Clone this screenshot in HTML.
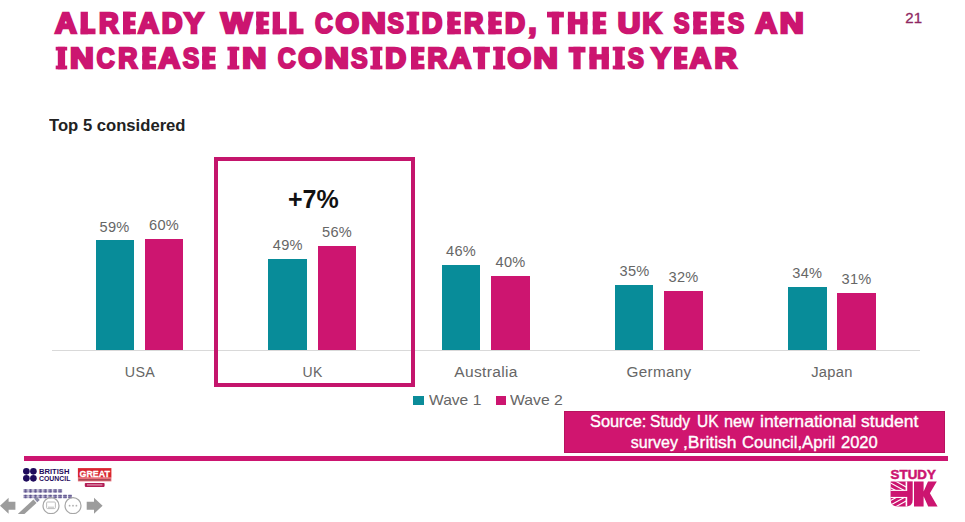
<!DOCTYPE html>
<html>
<head>
<meta charset="utf-8">
<title>Slide 21</title>
<style>
html,body{margin:0;padding:0;}
body{width:965px;height:522px;overflow:hidden;background:#fff;position:relative;font-family:"Liberation Sans",sans-serif;}
.abs{position:absolute;white-space:nowrap;}
.tw{color:#cc1570;font-weight:bold;font-size:29.2px;line-height:30px;transform-origin:0 0;-webkit-text-stroke:2.6px #cc1570;}
.tw2{font-size:28.6px;-webkit-text-stroke:3.0px #cc1570;}
.g{height:22.3px;--c:linear-gradient(#cc1570,#cc1570);}
.gE{background:var(--c) left/7.2px 100% no-repeat,var(--c) top/100% 5.3px no-repeat,var(--c) left 50%/94% 5px no-repeat,var(--c) bottom/100% 5.3px no-repeat;}
.gL{background:var(--c) left/7.2px 100% no-repeat,var(--c) bottom/100% 5.6px no-repeat;}
.gT{background:var(--c) center/7.2px 100% no-repeat,var(--c) top/100% 5.6px no-repeat;}
.gH{background:var(--c) left/7.2px 100% no-repeat,var(--c) right/7.2px 100% no-repeat,var(--c) left 45%/100% 5.4px no-repeat;}
.gI{background:var(--c) center/7.2px 100% no-repeat,var(--c) top/100% 3.6px no-repeat,var(--c) bottom/100% 3.6px no-repeat;}
.sw{color:#fff;font-size:16px;line-height:18px;transform-origin:0 0;-webkit-text-stroke:0.35px #fff;}
.bar{position:absolute;}
.teal{background:#088c99;}
.pink{background:#cd1570;}
.val{position:absolute;width:60px;text-align:center;font-size:14.6px;line-height:14px;color:#666;letter-spacing:0.25px;}
.cat{position:absolute;width:120px;text-align:center;font-size:14px;line-height:14px;color:#666;letter-spacing:0.3px;}
</style>
</head>
<body>
<!-- title -->
<svg class="abs" id="titlesvg" style="left:0;top:0;" width="965" height="84" viewBox="0 0 965 84" font-family="Liberation Sans, sans-serif" font-weight="bold" font-size="29.2" fill="#cc1570" stroke="#cc1570" stroke-width="2.6" stroke-linejoin="miter" stroke-miterlimit="3">
<text transform="translate(55.03,33.00) scale(1.026,1)">A</text>
<text transform="translate(98.90,33.00) scale(0.932,1)">R</text>
<text transform="translate(137.90,33.00) scale(0.996,1)">A</text>
<text transform="translate(161.66,33.00) scale(0.985,1)">D</text>
<text transform="translate(184.34,33.00) scale(0.996,1)">Y</text>
<text transform="translate(221.09,33.00) scale(1.125,1)">W</text>
<text transform="translate(315.00,33.00) scale(0.836,1)" font-size="29.6" stroke-width="2.2">C</text>
<text transform="translate(335.40,33.00) scale(1.037,1)">O</text>
<text transform="translate(361.53,33.00) scale(1.154,1)">N</text>
<text transform="translate(387.61,33.00) scale(0.830,1)" font-size="29.6" stroke-width="2.2">S</text>
<text transform="translate(421.67,33.00) scale(0.976,1)">D</text>
<text transform="translate(463.91,33.00) scale(0.918,1)">R</text>
<text transform="translate(504.89,33.00) scale(0.951,1)">D</text>
<text transform="translate(528.54,33.00) scale(0.982,1)">,</text>
<text transform="translate(617.66,33.00) scale(1.075,1)">U</text>
<text transform="translate(642.43,33.00) scale(0.898,1)">K</text>
<text transform="translate(673.80,33.00) scale(0.800,1)" font-size="29.6" stroke-width="2.2">S</text>
<text transform="translate(727.72,33.00) scale(0.835,1)" font-size="29.6" stroke-width="2.2">S</text>
<text transform="translate(755.62,33.00) scale(1.022,1)">A</text>
<text transform="translate(779.75,33.00) scale(1.139,1)">N</text>
<text transform="translate(70.06,68.05) scale(1.124,1)">N</text>
<text transform="translate(96.50,68.05) scale(0.855,1)" font-size="29.6" stroke-width="2.2">C</text>
<text transform="translate(118.32,68.05) scale(0.905,1)">R</text>
<text transform="translate(158.52,68.05) scale(1.022,1)">A</text>
<text transform="translate(182.72,68.05) scale(0.835,1)" font-size="29.6" stroke-width="2.2">S</text>
<text transform="translate(242.14,68.05) scale(1.144,1)">N</text>
<text transform="translate(277.80,68.05) scale(0.841,1)" font-size="29.6" stroke-width="2.2">C</text>
<text transform="translate(298.30,68.05) scale(1.037,1)">O</text>
<text transform="translate(324.64,68.05) scale(1.144,1)">N</text>
<text transform="translate(351.02,68.05) scale(0.844,1)" font-size="29.6" stroke-width="2.2">S</text>
<text transform="translate(385.26,68.05) scale(0.990,1)">D</text>
<text transform="translate(427.50,68.05) scale(0.936,1)">R</text>
<text transform="translate(449.81,68.05) scale(1.009,1)">A</text>
<text transform="translate(507.60,68.05) scale(1.037,1)">O</text>
<text transform="translate(533.43,68.05) scale(1.154,1)">N</text>
<text transform="translate(627.71,68.05) scale(0.820,1)" font-size="29.6" stroke-width="2.2">S</text>
<text transform="translate(651.13,68.05) scale(0.987,1)">Y</text>
<text transform="translate(689.71,68.05) scale(1.009,1)">A</text>
<text transform="translate(714.41,68.05) scale(1.055,1)">R</text>
<g stroke="none"><rect x="80.60" y="11.75" width="7.30" height="22.50"/><rect x="80.60" y="28.55" width="14.90" height="5.70"/><rect x="123.00" y="11.75" width="7.30" height="22.50"/><rect x="123.00" y="11.75" width="12.90" height="5.40"/><rect x="123.00" y="20.50" width="12.25" height="5.00"/><rect x="123.00" y="28.85" width="12.90" height="5.40"/><rect x="256.30" y="11.75" width="7.30" height="22.50"/><rect x="256.30" y="11.75" width="12.90" height="5.40"/><rect x="256.30" y="20.50" width="12.25" height="5.00"/><rect x="256.30" y="28.85" width="12.90" height="5.40"/><rect x="272.70" y="11.75" width="7.30" height="22.50"/><rect x="272.70" y="28.55" width="13.90" height="5.70"/><rect x="289.30" y="11.75" width="7.30" height="22.50"/><rect x="289.30" y="28.55" width="14.20" height="5.70"/><rect x="409.25" y="11.75" width="7.30" height="22.50"/><rect x="406.60" y="11.75" width="12.60" height="3.70"/><rect x="406.60" y="30.55" width="12.60" height="3.70"/><rect x="447.40" y="11.75" width="7.30" height="22.50"/><rect x="447.40" y="11.75" width="13.50" height="5.40"/><rect x="447.40" y="20.50" width="12.82" height="5.00"/><rect x="447.40" y="28.85" width="13.50" height="5.40"/><rect x="488.40" y="11.75" width="7.30" height="22.50"/><rect x="488.40" y="11.75" width="13.50" height="5.40"/><rect x="488.40" y="20.50" width="12.82" height="5.00"/><rect x="488.40" y="28.85" width="13.50" height="5.40"/><rect x="551.80" y="11.75" width="7.30" height="22.50"/><rect x="547.00" y="11.75" width="16.90" height="5.70"/><rect x="567.90" y="11.75" width="7.30" height="22.50"/><rect x="580.20" y="11.75" width="7.30" height="22.50"/><rect x="567.90" y="19.18" width="19.60" height="5.40"/><rect x="592.80" y="11.75" width="7.30" height="22.50"/><rect x="592.80" y="11.75" width="13.50" height="5.40"/><rect x="592.80" y="20.50" width="12.83" height="5.00"/><rect x="592.80" y="28.85" width="13.50" height="5.40"/><rect x="693.30" y="11.75" width="7.30" height="22.50"/><rect x="693.30" y="11.75" width="13.60" height="5.40"/><rect x="693.30" y="20.50" width="12.92" height="5.00"/><rect x="693.30" y="28.85" width="13.60" height="5.40"/><rect x="710.80" y="11.75" width="7.30" height="22.50"/><rect x="710.80" y="11.75" width="13.60" height="5.40"/><rect x="710.80" y="20.50" width="12.92" height="5.00"/><rect x="710.80" y="28.85" width="13.60" height="5.40"/><rect x="57.80" y="46.80" width="7.30" height="22.50"/><rect x="55.70" y="46.80" width="11.50" height="3.70"/><rect x="55.70" y="65.60" width="11.50" height="3.70"/><rect x="142.30" y="46.80" width="7.30" height="22.50"/><rect x="142.30" y="46.80" width="13.80" height="5.40"/><rect x="142.30" y="55.55" width="13.11" height="5.00"/><rect x="142.30" y="63.90" width="13.80" height="5.40"/><rect x="202.20" y="46.80" width="7.30" height="22.50"/><rect x="202.20" y="46.80" width="13.50" height="5.40"/><rect x="202.20" y="55.55" width="12.82" height="5.00"/><rect x="202.20" y="63.90" width="13.50" height="5.40"/><rect x="229.70" y="46.80" width="7.30" height="22.50"/><rect x="227.40" y="46.80" width="11.90" height="3.70"/><rect x="227.40" y="65.60" width="11.90" height="3.70"/><rect x="372.70" y="46.80" width="7.30" height="22.50"/><rect x="370.30" y="46.80" width="12.10" height="3.70"/><rect x="370.30" y="65.60" width="12.10" height="3.70"/><rect x="411.00" y="46.80" width="7.30" height="22.50"/><rect x="411.00" y="46.80" width="13.50" height="5.40"/><rect x="411.00" y="55.55" width="12.82" height="5.00"/><rect x="411.00" y="63.90" width="13.50" height="5.40"/><rect x="477.80" y="46.80" width="7.30" height="22.50"/><rect x="473.00" y="46.80" width="16.90" height="5.70"/><rect x="495.55" y="46.80" width="7.30" height="22.50"/><rect x="493.10" y="46.80" width="12.20" height="3.70"/><rect x="493.10" y="65.60" width="12.20" height="3.70"/><rect x="573.35" y="46.80" width="7.30" height="22.50"/><rect x="568.50" y="46.80" width="17.00" height="5.70"/><rect x="589.40" y="46.80" width="7.30" height="22.50"/><rect x="601.60" y="46.80" width="7.30" height="22.50"/><rect x="589.40" y="54.22" width="19.50" height="5.40"/><rect x="615.15" y="46.80" width="7.30" height="22.50"/><rect x="612.70" y="46.80" width="12.20" height="3.70"/><rect x="612.70" y="65.60" width="12.20" height="3.70"/><rect x="674.00" y="46.80" width="7.30" height="22.50"/><rect x="674.00" y="46.80" width="13.50" height="5.40"/><rect x="674.00" y="55.55" width="12.82" height="5.00"/><rect x="674.00" y="63.90" width="13.50" height="5.40"/></g>
</svg>
<div class="abs" id="pg" style="left:905.3px;top:10.2px;font-size:15px;line-height:16px;color:#8f2762;-webkit-text-stroke:0.3px #8f2762;">21</div>
<div class="abs" id="sub" style="left:48.6px;top:117px;font-size:16px;line-height:18px;font-weight:bold;color:#222;transform:scaleX(1.04);transform-origin:0 0;">Top 5 considered</div>

<!-- axis -->
<div class="abs" id="axis" style="left:52px;top:350px;width:868px;height:1px;background:#d9d9d9;"></div>

<!-- bars -->
<div class="bar teal" style="left:95.5px;top:240.4px;width:38px;height:109.6px;"></div>
<div class="bar pink" style="left:144.6px;top:238.6px;width:38.6px;height:111.4px;"></div>
<div class="bar teal" style="left:268.4px;top:259px;width:38.6px;height:91px;"></div>
<div class="bar pink" style="left:317.6px;top:246.2px;width:38.8px;height:103.8px;"></div>
<div class="bar teal" style="left:441.5px;top:264.6px;width:38.6px;height:85.4px;"></div>
<div class="bar pink" style="left:491px;top:275.8px;width:38.6px;height:74.2px;"></div>
<div class="bar teal" style="left:614.6px;top:285.2px;width:38.8px;height:64.8px;"></div>
<div class="bar pink" style="left:664.2px;top:290.8px;width:38.8px;height:59.2px;"></div>
<div class="bar teal" style="left:788px;top:287px;width:38.6px;height:63px;"></div>
<div class="bar pink" style="left:837.2px;top:292.6px;width:38.8px;height:57.4px;"></div>

<!-- value labels -->
<div class="val" style="left:84.6px;top:219.5px;">59%</div>
<div class="val" style="left:134px;top:217.7px;">60%</div>
<div class="val" style="left:257.8px;top:238px;">49%</div>
<div class="val" style="left:307px;top:225.3px;">56%</div>
<div class="val" style="left:431px;top:244px;">46%</div>
<div class="val" style="left:480.5px;top:255px;">40%</div>
<div class="val" style="left:604.5px;top:264px;">35%</div>
<div class="val" style="left:653.6px;top:270px;">32%</div>
<div class="val" style="left:777.3px;top:266px;">34%</div>
<div class="val" style="left:826.6px;top:272px;">31%</div>

<!-- category labels -->
<div class="cat" style="left:79.5px;top:365px;transform:scaleX(1.02);">USA</div>
<div class="cat" style="left:252.5px;top:365px;transform:scaleX(1.0);">UK</div>
<div class="cat" style="left:425.5px;top:365px;transform:scaleX(1.11);">Australia</div>
<div class="cat" style="left:598.8px;top:365px;transform:scaleX(1.09);">Germany</div>
<div class="cat" style="left:772px;top:365px;transform:scaleX(1.05);">Japan</div>

<!-- highlight box -->
<div class="abs" id="hbox" style="left:213.6px;top:157.4px;width:193.6px;height:221.6px;border:4px solid #c4156c;"></div>
<div class="abs" id="plus7" style="left:288px;top:186px;font-size:25px;line-height:26px;font-weight:bold;color:#111;">+7%</div>

<!-- legend -->
<div class="abs" style="left:413px;top:396px;width:10.5px;height:9px;background:#0b8c99;"></div>
<div class="abs" id="lg1" style="left:428.5px;top:391.2px;font-size:15px;line-height:17px;color:#666;transform:scaleX(1.04);transform-origin:0 0;">Wave 1</div>
<div class="abs" style="left:495.6px;top:396.2px;width:10.4px;height:8.8px;background:#cc1570;"></div>
<div class="abs" id="lg2" style="left:510px;top:391.2px;font-size:15px;line-height:17px;color:#666;transform:scaleX(1.05);transform-origin:0 0;">Wave 2</div>

<!-- source box -->
<div class="abs" id="src" style="left:563.7px;top:411.2px;width:381.3px;height:41.5px;background:#d0156f;box-sizing:border-box;border:1px solid #b8125f;"></div>
<div class="abs sw" style="left:590.0px;top:412.5px;transform:scaleX(1.023);">Source:</div>
<div class="abs sw" style="left:649.9px;top:412.5px;transform:scaleX(0.978);">Study</div>
<div class="abs sw" style="left:697.0px;top:412.5px;transform:scaleX(0.965);">UK</div>
<div class="abs sw" style="left:724.0px;top:412.5px;transform:scaleX(1.018);">new</div>
<div class="abs sw" style="left:759.9px;top:412.5px;transform:scaleX(1.103);">international</div>
<div class="abs sw" style="left:860.7px;top:412.5px;transform:scaleX(1.095);">student</div>
<div class="abs sw" style="left:630.8px;top:434px;transform:scaleX(1.000);">survey</div>
<div class="abs sw" style="left:682.9px;top:434px;transform:scaleX(1.095);">,British</div>
<div class="abs sw" style="left:741.5px;top:434px;transform:scaleX(1.039);">Council,April</div>
<div class="abs sw" style="left:841.2px;top:434px;transform:scaleX(1.032);">2020</div>

<!-- footer line -->
<div class="abs" id="fline" style="left:23.6px;top:455.7px;width:924.8px;height:4.9px;background:#cc1570;"></div>


<!-- footer graphics -->
<svg class="abs" id="foot" style="left:0;top:0;" width="965" height="522" viewBox="0 0 965 522">
<!-- British Council -->
<g fill="#1f0b5c">
<circle cx="26.35" cy="471.35" r="3.3"/><circle cx="33.4" cy="471.35" r="3.3"/>
<circle cx="26.35" cy="478.35" r="3.3"/><circle cx="33.4" cy="478.35" r="3.3"/>
</g>
<g font-family="Liberation Sans, sans-serif" font-weight="bold" fill="#1f0b5c" font-size="7.9">
<text x="39" y="474.4" textLength="30.4" lengthAdjust="spacingAndGlyphs">BRITISH</text>
<text x="39" y="481.4" textLength="31.4" lengthAdjust="spacingAndGlyphs">COUNCIL</text>
</g>
<!-- GREAT -->
<rect x="77.9" y="468.1" width="33.5" height="9.6" fill="#d9252f"/>
<rect x="77.9" y="477.7" width="33.5" height="3.7" fill="#e8707a"/>
<rect x="78.6" y="479.2" width="32" height="1.3" fill="#7a2a3a" opacity="0.7"/>
<text x="79.6" y="476.5" font-family="Liberation Sans, sans-serif" font-weight="bold" font-size="9.4" fill="#fff" stroke="#fff" stroke-width="0.3" textLength="30.2" lengthAdjust="spacingAndGlyphs">GREAT</text>
<rect x="84.8" y="482.9" width="19.8" height="4" rx="0.8" fill="#b31d55"/>
<rect x="87" y="484.3" width="15.4" height="1.2" fill="#fff" opacity="0.55"/>
<!-- chinese text -->
<rect x="23.60" y="489.10" width="4.0" height="3.6" fill="#2b1d6b" opacity="0.38"/>
<path d="M23.60,490.00h4.0M23.60,491.70h4.0M25.60,489.10v3.6" stroke="#2b1d6b" stroke-width="0.7" opacity="0.6" fill="none"/>
<rect x="28.53" y="489.10" width="4.0" height="3.6" fill="#2b1d6b" opacity="0.38"/>
<path d="M28.53,490.00h4.0M28.53,491.70h4.0M30.53,489.10v3.6" stroke="#2b1d6b" stroke-width="0.7" opacity="0.6" fill="none"/>
<rect x="33.46" y="489.10" width="4.0" height="3.6" fill="#2b1d6b" opacity="0.38"/>
<path d="M33.46,490.00h4.0M33.46,491.70h4.0M35.46,489.10v3.6" stroke="#2b1d6b" stroke-width="0.7" opacity="0.6" fill="none"/>
<rect x="38.39" y="489.10" width="4.0" height="3.6" fill="#2b1d6b" opacity="0.38"/>
<path d="M38.39,490.00h4.0M38.39,491.70h4.0M40.39,489.10v3.6" stroke="#2b1d6b" stroke-width="0.7" opacity="0.6" fill="none"/>
<rect x="43.32" y="489.10" width="4.0" height="3.6" fill="#2b1d6b" opacity="0.38"/>
<path d="M43.32,490.00h4.0M43.32,491.70h4.0M45.32,489.10v3.6" stroke="#2b1d6b" stroke-width="0.7" opacity="0.6" fill="none"/>
<rect x="48.25" y="489.10" width="4.0" height="3.6" fill="#2b1d6b" opacity="0.38"/>
<path d="M48.25,490.00h4.0M48.25,491.70h4.0M50.25,489.10v3.6" stroke="#2b1d6b" stroke-width="0.7" opacity="0.6" fill="none"/>
<rect x="53.18" y="489.10" width="4.0" height="3.6" fill="#2b1d6b" opacity="0.38"/>
<path d="M53.18,490.00h4.0M53.18,491.70h4.0M55.18,489.10v3.6" stroke="#2b1d6b" stroke-width="0.7" opacity="0.6" fill="none"/>
<rect x="58.11" y="489.10" width="4.0" height="3.6" fill="#2b1d6b" opacity="0.38"/>
<path d="M58.11,490.00h4.0M58.11,491.70h4.0M60.11,489.10v3.6" stroke="#2b1d6b" stroke-width="0.7" opacity="0.6" fill="none"/>
<rect x="23.60" y="494.70" width="4.0" height="3.6" fill="#2b1d6b" opacity="0.38"/>
<path d="M23.60,495.60h4.0M23.60,497.30h4.0M25.60,494.70v3.6" stroke="#2b1d6b" stroke-width="0.7" opacity="0.6" fill="none"/>
<rect x="28.53" y="494.70" width="4.0" height="3.6" fill="#2b1d6b" opacity="0.38"/>
<path d="M28.53,495.60h4.0M28.53,497.30h4.0M30.53,494.70v3.6" stroke="#2b1d6b" stroke-width="0.7" opacity="0.6" fill="none"/>
<rect x="33.46" y="494.70" width="4.0" height="3.6" fill="#2b1d6b" opacity="0.38"/>
<path d="M33.46,495.60h4.0M33.46,497.30h4.0M35.46,494.70v3.6" stroke="#2b1d6b" stroke-width="0.7" opacity="0.6" fill="none"/>
<rect x="38.39" y="494.70" width="4.0" height="3.6" fill="#2b1d6b" opacity="0.38"/>
<path d="M38.39,495.60h4.0M38.39,497.30h4.0M40.39,494.70v3.6" stroke="#2b1d6b" stroke-width="0.7" opacity="0.6" fill="none"/>
<rect x="43.32" y="494.70" width="4.0" height="3.6" fill="#2b1d6b" opacity="0.38"/>
<path d="M43.32,495.60h4.0M43.32,497.30h4.0M45.32,494.70v3.6" stroke="#2b1d6b" stroke-width="0.7" opacity="0.6" fill="none"/>
<rect x="48.25" y="494.70" width="4.0" height="3.6" fill="#2b1d6b" opacity="0.38"/>
<path d="M48.25,495.60h4.0M48.25,497.30h4.0M50.25,494.70v3.6" stroke="#2b1d6b" stroke-width="0.7" opacity="0.6" fill="none"/>
<rect x="53.18" y="494.70" width="4.0" height="3.6" fill="#2b1d6b" opacity="0.38"/>
<path d="M53.18,495.60h4.0M53.18,497.30h4.0M55.18,494.70v3.6" stroke="#2b1d6b" stroke-width="0.7" opacity="0.6" fill="none"/>
<rect x="58.11" y="494.70" width="4.0" height="3.6" fill="#2b1d6b" opacity="0.38"/>
<path d="M58.11,495.60h4.0M58.11,497.30h4.0M60.11,494.70v3.6" stroke="#2b1d6b" stroke-width="0.7" opacity="0.6" fill="none"/>
<rect x="63.04" y="494.70" width="4.0" height="3.6" fill="#2b1d6b" opacity="0.38"/>
<path d="M63.04,495.60h4.0M63.04,497.30h4.0M65.04,494.70v3.6" stroke="#2b1d6b" stroke-width="0.7" opacity="0.6" fill="none"/>
<rect x="67.97" y="494.70" width="4.0" height="3.6" fill="#2b1d6b" opacity="0.38"/>
<path d="M67.97,495.60h4.0M67.97,497.30h4.0M69.97,494.70v3.6" stroke="#2b1d6b" stroke-width="0.7" opacity="0.6" fill="none"/>
<!-- nav icons -->
<g fill="#9c9c9c">
<path d="M0,505.7 L8.6,497.7 V501.7 H15.4 V509.7 H8.6 V513.7 Z"/>
<path d="M102.6,505.7 L94,497.7 V501.7 H86.7 V509.7 H94 V513.7 Z"/>
<path d="M19.6,515.4 L35,501.2" stroke="#9c9c9c" stroke-width="4.6" fill="none"/>
<path d="M35.7,500.5 L38.2,498.2" stroke="#8d8da6" stroke-width="4.6" fill="none"/>
</g>
<g fill="none" stroke="#a6a6a6" stroke-width="1.2">
<circle cx="51" cy="505.7" r="8"/>
<circle cx="73" cy="505.7" r="8"/>
<rect x="46.6" y="502" width="8.8" height="6.6" rx="1" stroke-width="0.9" stroke="#b5b5b5"/>
</g>
<path d="M48,507.2h6" stroke="#b5b5b5" stroke-width="0.9"/>
<g fill="#b0b0b0"><circle cx="69.6" cy="505.7" r="0.9"/><circle cx="73" cy="505.7" r="0.9"/><circle cx="76.4" cy="505.7" r="0.9"/></g>
<rect x="0" y="514" width="120" height="8" fill="#fff"/>
<!-- STUDY UK -->
<text x="890.6" y="478.8" font-family="Liberation Sans, sans-serif" font-weight="bold" font-size="13" fill="#cc1570" stroke="#cc1570" stroke-width="0.5" textLength="45.2" lengthAdjust="spacingAndGlyphs">STUDY</text>
<g>
<clipPath id="uclip"><path d="M890.7,481.6 H912.6 V499.5 Q912.6,506.5 905.6,506.5 H897.7 Q890.7,506.5 890.7,499.5 Z"/></clipPath>
<g clip-path="url(#uclip)">
<rect x="890" y="481" width="23" height="26" fill="#cc1570"/>
<!-- diagonals top-left -->
<path d="M888,481.6 L907,492 M888,477 L907,487.4 M888,486.4 L903,494.6" stroke="#fff" stroke-width="1.1" fill="none"/>
<!-- diagonals bottom-left -->
<path d="M888,506.5 L907,496 M888,511 L907,500.6 M888,501.9 L903,493.7" stroke="#fff" stroke-width="1.1" fill="none"/>
<!-- horizontal band -->
<rect x="890" y="489.8" width="17" height="8.2" fill="#fff"/>
<rect x="890" y="490.9" width="17" height="6" fill="#cc1570"/>
<!-- vertical band -->
<rect x="905.6" y="481" width="8" height="26" fill="#fff"/>
<rect x="907.2" y="481" width="6" height="26" fill="#cc1570"/>
<rect x="905" y="490.9" width="3" height="6" fill="#cc1570"/>
</g>
</g>
<path d="M914,481.6 H923.6 V491.4 L928,481.6 H936.8 L929.9,493.2 L937.6,506.5 H928.2 L923.6,496.2 V506.5 H914 Z" fill="#cc1570"/>
</svg>
</body>
</html>
